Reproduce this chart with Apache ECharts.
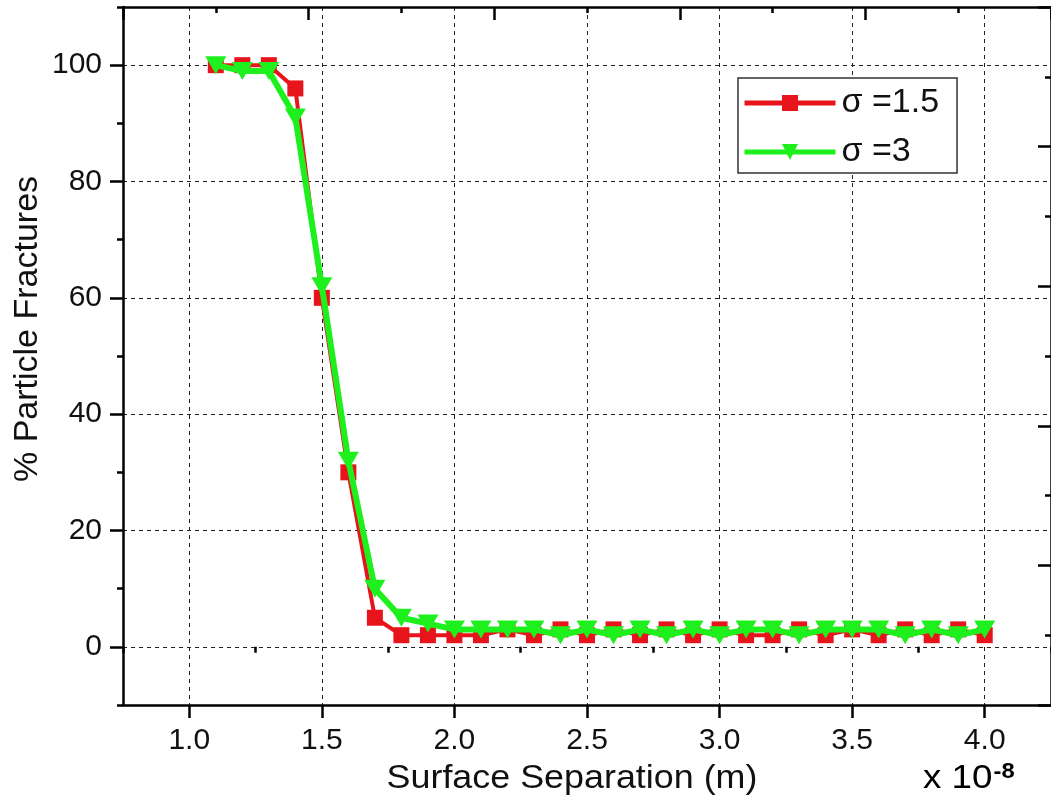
<!DOCTYPE html>
<html>
<head>
<meta charset="utf-8">
<script src="https://cdn.jsdelivr.net/npm/echarts@6/dist/echarts.min.js"></script>
<style>
html,body{margin:0;padding:0;background:#fff;}
#chart{width:1051px;height:803px;}
</style>
</head>
<body>
<div id="chart"></div>
<script>
// ---- data ----
const xValues = [1.1,1.2,1.3,1.4,1.5,1.6,1.7,1.8,1.9,2.0,2.1,2.2,2.3,2.4,2.5,2.6,2.7,2.8,2.9,3.0,3.1,3.2,3.3,3.4,3.5,3.6,3.7,3.8,3.9,4.0];
const sigma15 = [100,100,100,96,60,30,5,2,2,2,2,3,2,3,2,3,2,3,2,3,2,2,3,2,3,2,3,2,3,2];
const sigma3  = [100,99,99,91,62,32,10,5,4,3,3,3,3,2,3,2,3,2,3,2,3,3,2,3,3,3,2,3,2,3];
const seriesNames = ['σ =1.5', 'σ =3'];
const xMajorTicks = [1.0,1.5,2.0,2.5,3.0,3.5,4.0];
const xMinorTicks = [0.75,1.25,1.75,2.25,2.75,3.25,3.75,4.25];
const yMajorTicks = [0,20,40,60,80,100];
const yMinorTicks = [-10,10,30,50,70,90,110];
const xAxisName = 'Surface Separation (m)';
const yAxisName = '% Particle Fractures';

const FONT = "'Liberation Sans', Arial, sans-serif";
const chart = echarts.init(document.getElementById('chart'), null, {renderer: 'canvas'});

const axisLineStyle = {color: '#000', width: 2.5};
const dashed = {color: '#222', width: 1, type: [4, 4]};
const RED = '#e8141c';
const GREEN = '#1ef01e';

const option = {
  animation: false,
  backgroundColor: '#fff',
  grid: {left: 123, right: -4, top: 7, bottom: 98, containLabel: false},
  xAxis: [
    {
      type: 'value', min: 0.75, max: 4.25, position: 'bottom',
      axisLine: {show: true, onZero: false, lineStyle: axisLineStyle},
      axisTick: {show: true, inside: false, length: 13, customValues: xMajorTicks, lineStyle: {color: '#000', width: 2.5}},
      axisLabel: {show: true, customValues: xMajorTicks, margin: 21, fontSize: 30, color: '#111', fontFamily: FONT,
        formatter: v => v.toFixed(1)},
      splitLine: {show: true, lineStyle: dashed}
    },
    {
      type: 'value', min: 0.75, max: 4.25, position: 'bottom',
      axisLine: {show: false},
      axisTick: {show: true, inside: false, length: 6, customValues: xMinorTicks, lineStyle: {color: '#000', width: 2.5}},
      axisLabel: {show: false},
      splitLine: {show: false}
    },
    {
      type: 'value', min: 0, max: 10, interval: 2, position: 'top',
      axisLine: {show: true, onZero: false, lineStyle: axisLineStyle},
      axisTick: {show: true, inside: true, length: 13, lineStyle: {color: '#000', width: 2.5}},
      minorTick: {show: true, splitNumber: 2, length: 6, lineStyle: {color: '#000', width: 2.5}},
      axisLabel: {show: false},
      splitLine: {show: false}
    }
  ],
  yAxis: [
    {
      type: 'value', min: -10, max: 110, position: 'left',
      axisLine: {show: true, onZero: false, lineStyle: axisLineStyle},
      axisTick: {show: true, inside: false, length: 13, customValues: yMajorTicks, lineStyle: {color: '#000', width: 2.5}},
      axisLabel: {show: true, customValues: yMajorTicks, margin: 21, fontSize: 30, color: '#111', fontFamily: FONT},
      splitLine: {show: true, lineStyle: dashed}
    },
    {
      type: 'value', min: -10, max: 110, position: 'left',
      axisLine: {show: false},
      axisTick: {show: true, inside: false, length: 6, customValues: yMinorTicks, lineStyle: {color: '#000', width: 2.5}},
      axisLabel: {show: false},
      splitLine: {show: false}
    },
    {
      type: 'value', min: 0, max: 10, interval: 2, position: 'right',
      axisLine: {show: true, onZero: false, lineStyle: axisLineStyle},
      axisTick: {show: true, inside: true, length: 13, lineStyle: {color: '#000', width: 2.5}},
      minorTick: {show: true, splitNumber: 2, length: 6, lineStyle: {color: '#000', width: 2.5}},
      axisLabel: {show: false},
      splitLine: {show: false}
    }
  ],
  legend: {
    show: true, orient: 'vertical', left: 738, top: 78,
    padding: [8, 18, 4, 4], itemGap: 15, itemWidth: 91, itemHeight: 20,
    borderColor: '#333', borderWidth: 1.5, backgroundColor: '#fff',
    lineStyle: {width: 5},
    textStyle: {fontSize: 34, color: '#111', fontFamily: FONT, padding: [0, 0, 0, 1]},
    data: seriesNames
  },
  series: [
    {
      name: seriesNames[0], type: 'line', xAxisIndex: 0, yAxisIndex: 0,
      data: xValues.map((x, i) => [x, sigma15[i]]),
      symbol: 'rect', symbolSize: 16,
      lineStyle: {color: RED, width: 4},
      itemStyle: {color: RED},
      z: 3
    },
    {
      name: seriesNames[1], type: 'line', xAxisIndex: 0, yAxisIndex: 0,
      data: xValues.map((x, i) => [x, sigma3[i]]),
      symbol: 'triangle', symbolSize: [21, 18], symbolRotate: 180,
      lineStyle: {color: GREEN, width: 6},
      itemStyle: {color: GREEN},
      z: 4
    }
  ],
  graphic: [
    {
      type: 'text', x: 572, y: 779, scaleX: 1.055,
      style: {text: xAxisName, fontSize: 34, fontFamily: FONT, fill: '#111', align: 'center', verticalAlign: 'middle'}
    },
    {
      type: 'text', x: 28, y: 329, rotation: Math.PI / 2,
      style: {text: yAxisName, fontSize: 34, fontFamily: FONT, fill: '#111', align: 'center', verticalAlign: 'middle'}
    },
    {
      type: 'text', x: 923, y: 779, scaleX: 1.08,
      style: {
        text: '{b|x 10}{s|-8}', align: 'left', verticalAlign: 'middle',
        rich: {
          b: {fontSize: 34, fontFamily: FONT, color: '#111'},
          s: {fontSize: 22, fontWeight: 'bold', fontFamily: FONT, color: '#111', verticalAlign: 'top', padding: [0,0,14,1]}
        }
      }
    }
  ]
};
chart.setOption(option);
</script>
</body>
</html>
